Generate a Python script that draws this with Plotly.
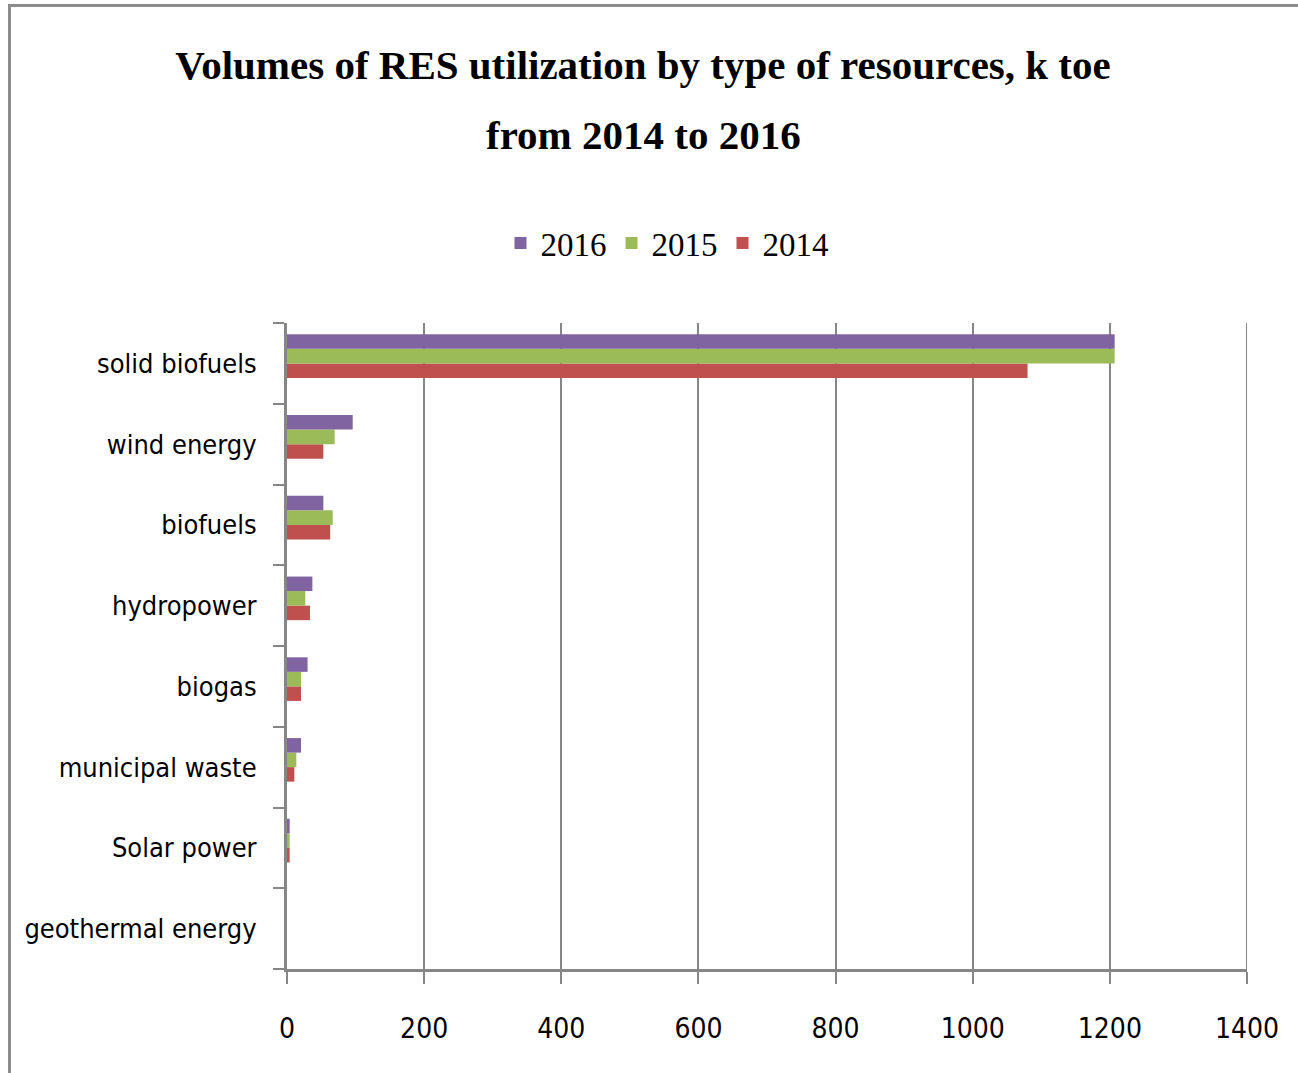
import plotly.graph_objects as go

categories = ["geothermal energy", "Solar power", "municipal waste", "biogas",
              "hydropower", "biofuels", "wind energy", "solid biofuels"]
v2014 = [0, 3.9, 10.7, 20.4, 33.5, 63, 53, 1080]
v2015 = [0, 3.9, 13.6, 20.4, 26.7, 66.6, 69.5, 1207]
v2016 = [0, 3.9, 20.4, 30, 37, 53, 95.8, 1207]
x_ticks = [0, 200, 400, 600, 800, 1000, 1200, 1400]
title_lines = ["Volumes of RES utilization by type of resources, k toe", "from 2014 to 2016"]

W, H = 1298, 1073
L, R, T, B = 287, 1247, 323, 969
pw, ph = R - L, B - T

def px(x):
    return (x - L) / pw

def py(y):
    return (B - y) / ph

grey = "#868686"
sans = "DejaVu Sans Condensed, Liberation Sans Narrow, Roboto Condensed, Roboto, sans-serif"
serif = "Liberation Serif, Times New Roman, serif"

fig = go.Figure()
for name, vals, color, off in [("2014", v2014, "#C0504D", -0.18),
                               ("2015", v2015, "#9BBB59", 0.0),
                               ("2016", v2016, "#8064A2", 0.18)]:
    fig.add_trace(go.Bar(y=categories, x=vals, name=name, orientation="h",
                         marker=dict(color=color, line=dict(width=0)),
                         width=0.18, offset=off))

fig.update_layout(
    width=W, height=H,
    margin=dict(l=L, r=W - R, t=T, b=H - B, pad=0),
    paper_bgcolor="white", plot_bgcolor="white",
    barmode="group",
    title=dict(text="<b>" + title_lines[0] + "</b>",
               font=dict(family=serif, size=41, color="black"),
               x=px(643), xref="paper", xanchor="center",
               y=1 - 65 / H, yref="container", yanchor="middle"),
    annotations=[dict(text="<b>" + title_lines[1] + "</b>", xref="paper", yref="paper",
                      x=px(643), y=py(135), xanchor="center", yanchor="middle",
                      showarrow=False, font=dict(family=serif, size=41, color="black"))],
    legend=dict(orientation="h", traceorder="reversed",
                x=px(667), xanchor="center", y=py(243), yanchor="middle",
                font=dict(family=serif, size=33, color="black"),
                itemwidth=30, tracegroupgap=0),
    xaxis=dict(range=[0, 1400], tickvals=x_ticks, ticktext=[str(t) for t in x_ticks],
               showgrid=True, gridcolor=grey, gridwidth=2,
               showline=True, linecolor=grey, linewidth=3,
               ticks="outside", ticklen=12, tickwidth=2, tickcolor=grey,
               ticklabelstandoff=20, zeroline=False,
               tickfont=dict(family=sans, size=28, color="black")),
    yaxis=dict(categoryorder="array", categoryarray=categories,
               showline=True, linecolor=grey, linewidth=3, showgrid=False,
               ticks="outside", ticklen=11, tickwidth=2, tickcolor=grey,
               tickson="boundaries", ticklabelstandoff=22,
               tickfont=dict(family=sans, size=27, color="black")),
    shapes=[dict(type="rect", xref="paper", yref="paper",
                 x0=px(9.5), x1=px(1320), y0=py(1100), y1=py(5.5),
                 line=dict(color="#8c8c8c", width=3), fillcolor="rgba(0,0,0,0)", layer="below"),
            dict(type="line", xref="x", yref="paper", x0=x_ticks[-1], x1=x_ticks[-1],
                 y0=0, y1=1, line=dict(color=grey, width=2), layer="below")],
)

fig.write_html("out.html")
